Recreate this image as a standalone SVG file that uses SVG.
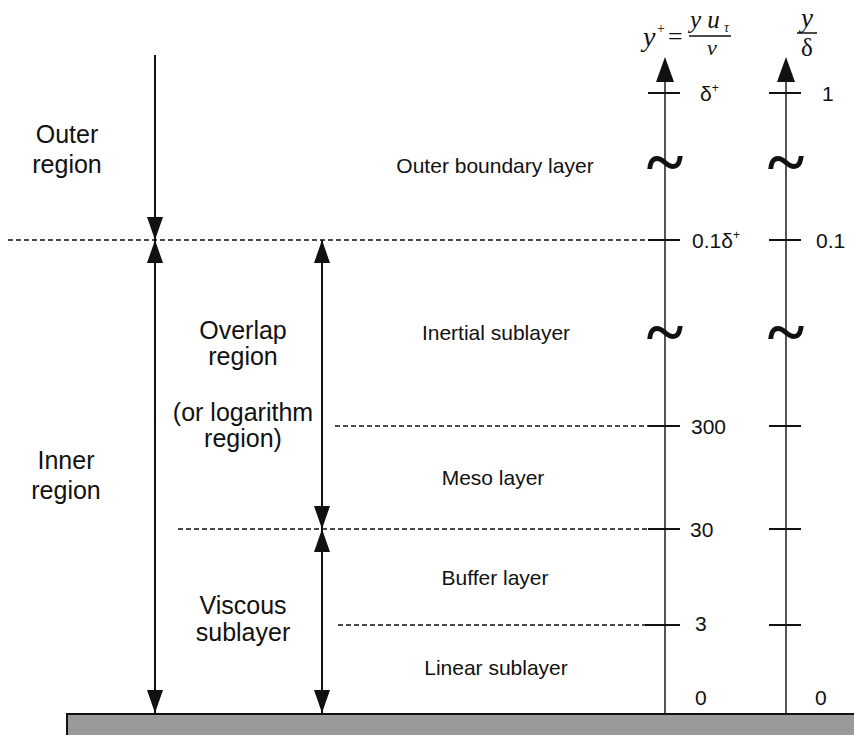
<svg xmlns="http://www.w3.org/2000/svg" width="854" height="735" viewBox="0 0 854 735">
<defs>
<style>
.lbl{font-family:"Liberation Sans",Arial,sans-serif;fill:#111;text-anchor:middle}
.big{font-size:25px}
.mid{font-size:21px}
.tick{font-family:"Liberation Sans",Arial,sans-serif;font-size:21px;fill:#111}
.dash{stroke:#111;stroke-width:1.7;stroke-dasharray:5 3;fill:none}
.arr{stroke:#111;stroke-width:2;fill:none}
.axis{stroke:#555;stroke-width:2;fill:none}
.tk{stroke:#111;stroke-width:2}
.tilde{font-family:"Liberation Serif",serif;font-size:70px;font-weight:bold;fill:#111;text-anchor:middle}
.math{font-family:"Liberation Serif",serif;fill:#111}
</style>
<marker id="ah2" viewBox="0 0 23 16" refX="23" refY="8" markerWidth="23" markerHeight="16" markerUnits="userSpaceOnUse" orient="auto-start-reverse">
<path d="M0,0 L23,8 L0,16 Z" fill="#111"/>
</marker>
</defs>
<rect width="854" height="735" fill="#fff"/>

<g id="ground">
<rect x="67" y="714" width="790" height="24" fill="#9a9a9a" stroke="#111" stroke-width="2"/>
</g>

<g id="connectors">
<line class="dash" x1="8" y1="240" x2="645" y2="240"/>
<line class="dash" x1="335" y1="426" x2="648" y2="426"/>
<line class="dash" x1="178" y1="529" x2="648" y2="529"/>
<line class="dash" x1="338" y1="625" x2="648" y2="625"/>
<line class="arr" x1="155" y1="55" x2="155" y2="240" marker-end="url(#ah2)"/>
<line class="arr" x1="155" y1="240" x2="155" y2="713" marker-start="url(#ah2)" marker-end="url(#ah2)"/>
<line class="arr" x1="322" y1="240" x2="322" y2="529" marker-start="url(#ah2)" marker-end="url(#ah2)"/>
<line class="arr" x1="322" y1="529" x2="322" y2="713" marker-start="url(#ah2)" marker-end="url(#ah2)"/>
</g>

<g id="axis-yplus">
<line class="axis" x1="665" y1="70" x2="665" y2="713"/>
<path d="M665,57 L674,82 L656,82 Z" fill="#111"/>
<line class="tk" x1="648" y1="93" x2="680" y2="93"/>
<line class="tk" x1="648" y1="240" x2="680" y2="240"/>
<line class="tk" x1="648" y1="426" x2="680" y2="426"/>
<line class="tk" x1="648" y1="529" x2="680" y2="529"/>
<line class="tk" x1="645" y1="625" x2="680" y2="625"/>
<text class="tilde" x="665" y="185">~</text>
<text class="tilde" x="665" y="355">~</text>
<text class="tick" x="700" y="101">δ<tspan font-size="12" dy="-9">+</tspan></text>
<text class="tick" x="692" y="248">0.1δ<tspan font-size="12" dy="-9">+</tspan></text>
<text class="tick" x="691" y="434">300</text>
<text class="tick" x="690" y="537">30</text>
<text class="tick" x="695" y="631">3</text>
<text class="tick" x="695" y="705">0</text>
<text class="math" x="643" y="46" font-size="28" font-style="italic">y</text>
<text class="math" x="657" y="33" font-size="14">+</text>
<text class="math" x="668" y="45" font-size="26">=</text>
<text class="math" x="690" y="28" font-size="25" font-style="italic">y u</text>
<text class="math" x="724" y="32" font-size="14" font-style="italic">τ</text>
<line x1="689" y1="36" x2="731" y2="36" stroke="#111" stroke-width="1.5"/>
<text class="math" x="712" y="55" font-size="22" font-style="italic" text-anchor="middle">ν</text>
</g>

<g id="axis-ydelta">
<line class="axis" x1="786" y1="70" x2="786" y2="713"/>
<path d="M786,57 L795,82 L777,82 Z" fill="#111"/>
<line class="tk" x1="769" y1="93" x2="801" y2="93"/>
<line class="tk" x1="769" y1="240" x2="801" y2="240"/>
<line class="tk" x1="769" y1="426" x2="801" y2="426"/>
<line class="tk" x1="769" y1="529" x2="801" y2="529"/>
<line class="tk" x1="769" y1="625" x2="801" y2="625"/>
<text class="tilde" x="786" y="185">~</text>
<text class="tilde" x="786" y="355">~</text>
<text class="tick" x="822" y="101">1</text>
<text class="tick" x="816" y="248">0.1</text>
<text class="tick" x="815" y="705">0</text>
<text class="math" x="807" y="27" font-size="27" font-style="italic" text-anchor="middle">y</text>
<line x1="797" y1="33" x2="817" y2="33" stroke="#111" stroke-width="1.5"/>
<text class="math" x="807" y="56" font-size="25" text-anchor="middle">δ</text>
</g>

<g id="outer-region"><text class="lbl big" x="67" y="143">Outer</text><text class="lbl big" x="67" y="173">region</text></g>
<g id="inner-region"><text class="lbl big" x="66" y="469">Inner</text><text class="lbl big" x="66" y="499">region</text></g>
<g id="overlap-region"><text class="lbl big" x="243" y="339">Overlap</text><text class="lbl big" x="243" y="365">region</text><text class="lbl big" x="243" y="421">(or logarithm</text><text class="lbl big" x="243" y="447">region)</text></g>
<g id="viscous-sublayer"><text class="lbl big" x="243" y="614">Viscous</text><text class="lbl big" x="243" y="641">sublayer</text></g>

<g id="outer-boundary-layer"><text class="lbl mid" x="495" y="173">Outer boundary layer</text></g>
<g id="inertial-sublayer"><text class="lbl mid" x="496" y="340">Inertial sublayer</text></g>
<g id="meso-layer"><text class="lbl mid" x="493" y="485">Meso layer</text></g>
<g id="buffer-layer"><text class="lbl mid" x="495" y="585">Buffer layer</text></g>
<g id="linear-sublayer"><text class="lbl mid" x="496" y="675">Linear sublayer</text></g>
</svg>
